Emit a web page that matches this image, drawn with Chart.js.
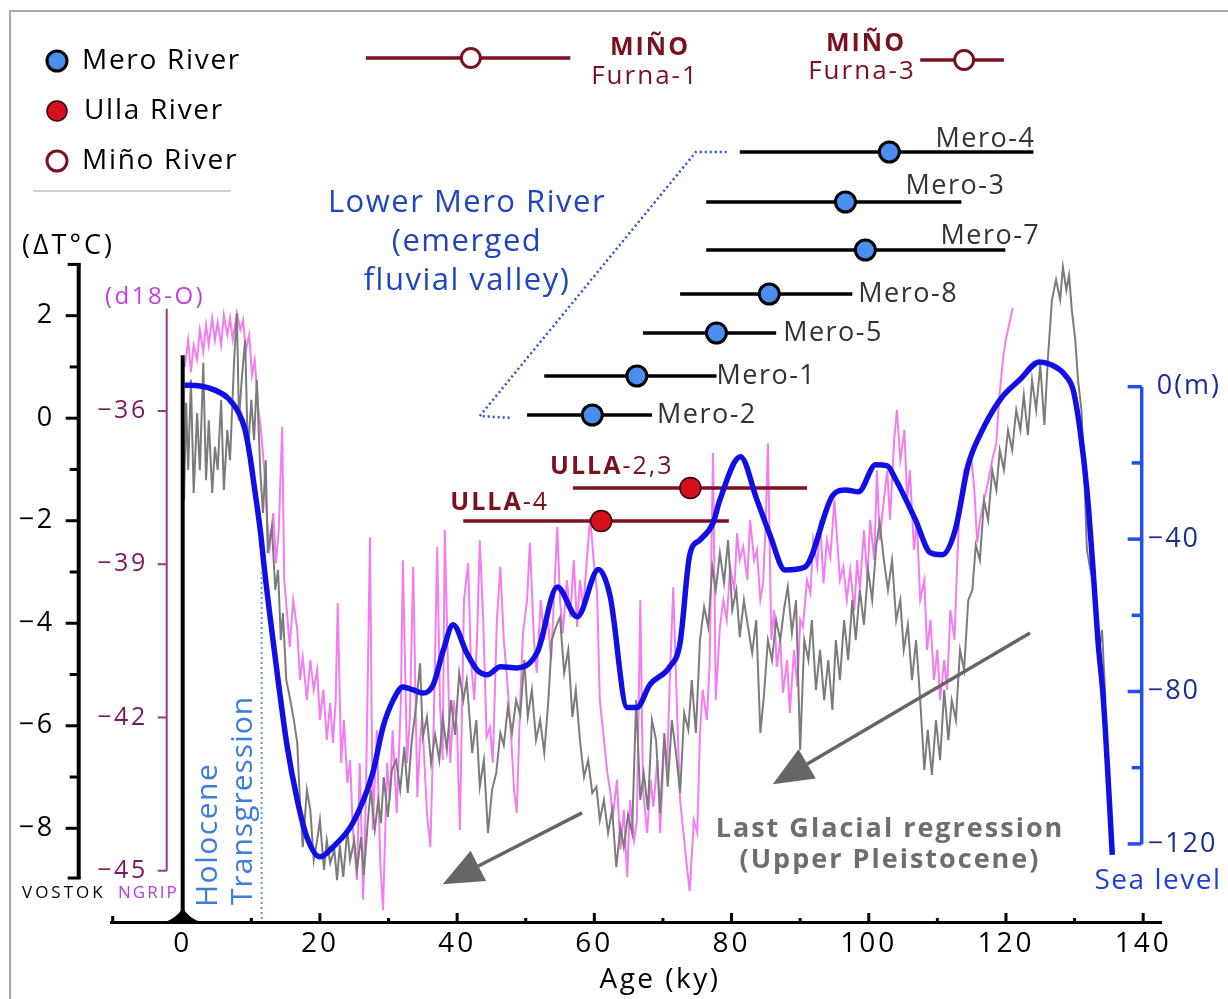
<!DOCTYPE html>
<html>
<head>
<meta charset="utf-8">
<script src="https://cdn.jsdelivr.net/npm/chart.js@4"></script>
<style>
  html, body { margin: 0; padding: 0; background: #fff; }
  #wrap { width: 1228px; height: 999px; }
</style>
</head>
<body>
<div id="wrap"><canvas id="chart" width="1228" height="999"></canvas></div>
<script>
// ---------- data ----------
// VOSTOK temperature anomaly (deg C) vs age (ky)
const vostokAge = [
  0.2,0.5,0.8,1.2,1.6,2.1,2.5,3.0,3.4,3.8,
  4.3,4.7,5.1,5.6,6.0,6.5,6.9,7.5,7.9,8.2,
  8.6,9.1,9.5,10.0,10.4,10.8,11.3,11.7,12.1,12.4,
  13.0,13.5,13.9,14.3,14.6,15.1,15.6,16.2,16.7,17.1,
  17.5,18.1,18.6,19.1,19.6,20.0,20.6,21.0,21.5,22.1,
  22.5,22.9,23.4,24.0,24.4,25.0,25.4,26.0,26.4,27.0,
  27.4,28.0,28.5,28.9,29.3,29.9,30.5,31.1,31.7,32.3,
  32.8,33.4,34.0,34.6,35.0,35.6,36.2,36.8,37.4,37.9,
  38.5,39.1,39.7,40.3,40.9,41.4,42.2,42.8,43.3,43.9,
  44.5,45.1,45.7,46.3,46.8,47.4,48.0,48.6,49.2,49.8,
  50.3,50.9,51.5,52.1,52.7,53.3,53.8,54.4,55.0,55.6,
  56.2,56.8,57.3,57.9,58.5,59.1,59.7,60.3,60.8,61.4,
  62.0,62.6,63.2,63.8,64.3,64.9,65.5,66.1,66.7,67.2,
  67.8,68.4,69.0,69.6,70.2,70.7,71.3,71.9,72.5,73.1,
  73.7,74.2,74.8,75.4,76.0,76.6,77.2,77.7,78.3,78.9,
  79.5,80.1,80.7,81.2,81.8,82.4,83.0,83.6,84.2,84.7,
  85.3,85.9,86.5,87.1,87.7,88.2,88.8,89.4,90.0,90.6,
  91.2,91.7,92.3,92.9,93.5,94.1,94.7,95.2,95.8,96.4,
  97.0,97.6,98.1,98.7,99.3,99.9,100.5,101.1,101.6,102.2,
  102.8,103.4,104.0,104.6,105.1,105.7,106.3,106.9,107.5,108.1,
  108.6,109.2,109.8,110.4,111.0,111.6,112.1,112.7,113.3,113.9,
  114.5,115.1,115.6,116.2,116.8,117.4,118.0,118.6,119.1,119.7,
  120.3,120.9,121.5,122.1,122.6,123.2,123.8,124.4,125.0,125.6,
  126.1,126.7,127.3,127.9,128.3,128.8,129.2,129.6,130.1,130.5,
  131.0,131.4,131.8,132.3,132.7,133.1,133.6,134.0,134.5
];
const vostokDT = [
  -1.60,0.30,-1.01,0.75,-1.46,0.10,-1.01,1.08,-1.21,-0.04,
  -1.46,-0.56,-1.01,0.36,-1.40,-0.23,-0.82,1.14,2.05,-0.04,
  0.75,1.53,-0.68,0.36,-0.43,0.75,-1.01,-1.85,-0.82,-2.63,
  -2.12,-3.35,-2.96,-4.33,-3.80,-5.11,-5.44,-5.89,-6.34,-7.51,
  -8.37,-7.25,-7.64,-8.62,-8.23,-7.84,-8.81,-8.23,-8.68,-8.42,
  -9.01,-8.33,-8.95,-8.03,-8.62,-8.23,-8.81,-8.17,-8.91,-7.84,
  -7.25,-8.03,-7.45,-7.90,-7.00,-7.78,-6.86,-6.67,-7.25,-6.41,
  -7.31,-6.28,-5.63,-4.78,-6.22,-5.83,-6.73,-6.18,-6.67,-5.83,
  -6.47,-5.50,-6.18,-4.97,-5.50,-5.11,-6.53,-5.89,-7.19,-6.67,
  -8.09,-7.25,-6.92,-6.14,-6.38,-5.63,-6.14,-5.50,-5.79,-4.72,
  -5.83,-5.30,-6.28,-5.89,-6.53,-5.50,-4.33,-4.07,-3.88,-4.97,
  -4.52,-5.83,-5.30,-6.28,-7.00,-6.67,-7.31,-7.19,-7.84,-7.45,
  -8.09,-7.64,-8.76,-7.98,-8.37,-7.74,-8.09,-5.50,-7.45,-6.92,
  -7.64,-5.89,-6.28,-7.70,-6.14,-7.19,-5.89,-6.53,-7.31,-5.75,
  -6.08,-5.11,-6.14,-4.33,-3.68,-4.07,-2.90,-3.35,-2.63,-3.21,
  -2.38,-3.74,-3.35,-4.27,-3.55,-4.07,-4.58,-3.94,-6.14,-5.44,
  -4.33,-4.72,-3.94,-4.33,-3.68,-3.29,-4.19,-3.55,-6.47,-4.33,
  -4.72,-3.94,-5.30,-4.52,-5.50,-4.72,-5.69,-4.33,-5.11,-3.94,
  -4.72,-3.55,-4.33,-3.35,-4.03,-2.96,-3.55,-2.47,-2.04,-2.77,
  -3.35,-2.77,-3.94,-3.55,-4.52,-4.03,-5.11,-4.33,-5.50,-6.86,
  -6.08,-6.96,-5.89,-6.67,-5.30,-6.28,-5.50,-5.89,-4.52,-4.91,
  -3.55,-3.35,-2.47,-2.77,-1.60,-1.99,-1.01,-1.40,-0.62,-1.01,
  -0.23,-0.62,0.16,-0.23,0.45,-0.33,0.75,0.16,1.04,-0.13,
  1.14,2.31,2.70,2.31,2.95,2.50,2.79,2.11,1.53,0.75,
  0.16,-1.01,-2.57,-2.96,-3.21,-3.55,-4.52,-4.13,-5.50
];

// NGRIP d18-O (permil) vs age (ky)
const ngripAge = [
  0.3,0.8,1.2,1.6,2.1,2.5,3.0,3.4,3.8,4.3,
  4.7,5.1,5.6,6.0,6.5,6.9,7.3,7.9,8.4,8.8,
  9.2,9.7,10.1,10.5,11.0,11.4,11.9,12.3,12.7,13.2,
  13.6,14.0,14.5,14.8,15.2,15.6,16.1,16.7,17.1,17.5,
  18.1,18.6,19.1,19.6,20.0,20.5,21.0,21.5,21.9,22.3,
  22.6,23.1,23.5,24.0,24.4,24.8,25.4,25.8,26.3,26.7,
  27.3,27.7,28.3,28.8,29.2,29.8,30.2,30.6,31.2,31.8,
  32.1,32.7,33.1,33.6,34.2,34.6,34.9,35.6,36.1,36.6,
  37.1,37.5,37.9,38.2,39.0,39.5,40.0,40.4,41.0,41.6,
  42.0,42.5,42.9,43.3,43.8,44.3,44.8,45.2,45.8,46.3,
  46.8,47.3,47.9,48.3,48.7,49.2,49.6,50.2,50.6,51.2,
  51.6,52.2,52.7,53.1,53.7,54.1,54.6,55.0,55.4,56.0,
  56.5,57.0,57.5,57.9,58.4,58.9,59.4,59.9,60.4,60.8,
  61.4,61.9,62.3,62.7,63.3,63.8,64.3,64.8,65.2,65.8,
  66.2,66.7,67.1,67.7,68.2,68.6,69.2,69.6,70.2,70.6,
  71.0,71.5,72.1,72.5,73.1,73.5,73.9,74.5,75.0,75.4,
  75.8,76.4,76.8,77.3,77.7,78.3,78.8,79.3,79.8,80.4,
  80.8,81.2,81.7,82.3,82.7,83.3,83.7,84.2,84.6,85.0,
  85.3,85.8,86.2,86.6,87.1,87.5,88.1,88.5,89.1,89.6,
  90.0,90.4,91.0,91.5,91.9,92.5,92.9,93.4,93.9,94.4,
  95.0,95.4,95.8,96.3,96.8,97.3,97.9,98.3,98.7,99.3,
  99.8,100.2,100.8,101.2,101.6,102.2,102.7,103.1,103.7,104.1,
  104.6,105.2,105.6,106.0,106.6,107.0,107.5,108.1,108.5,109.0,
  109.5,110.0,110.4,111.0,111.4,111.9,112.5,112.9,113.3,113.9,
  114.3,114.9,115.4,115.8,116.2,116.8,117.4,118.0,118.6,119.0,
  119.6,120.0,120.6,121.0
];
const ngripD18O = [
  -35.14,-34.61,-35.24,-34.71,-35.00,-34.41,-34.84,-34.32,-34.71,-34.18,
  -34.61,-34.26,-34.71,-34.12,-34.51,-34.18,-34.61,-34.08,-34.41,-34.22,
  -34.81,-34.51,-35.30,-35.00,-35.92,-36.37,-37.16,-38.13,-38.66,-38.00,
  -38.98,-38.33,-36.31,-39.31,-39.95,-40.62,-39.70,-40.29,-41.27,-40.82,
  -41.66,-40.87,-41.46,-41.07,-42.05,-41.46,-42.44,-41.72,-42.50,-41.66,
  -39.76,-42.89,-42.05,-43.28,-42.83,-44.20,-45.18,-42.89,-45.57,-43.56,
  -38.47,-44.20,-42.25,-44.85,-45.77,-42.89,-43.62,-42.25,-43.87,-41.66,
  -38.92,-42.89,-42.05,-39.05,-43.56,-42.44,-41.99,-43.87,-44.54,-42.05,
  -38.66,-41.72,-42.83,-38.33,-42.89,-41.66,-42.25,-44.20,-39.70,-38.98,
  -40.87,-41.66,-40.48,-38.53,-40.09,-42.38,-42.19,-42.89,-40.09,-39.05,
  -40.48,-41.27,-42.44,-43.42,-43.87,-41.66,-40.35,-39.70,-38.58,-40.48,
  -41.13,-39.70,-40.48,-39.84,-40.87,-39.70,-38.27,-39.70,-40.35,-39.31,
  -40.03,-38.92,-40.23,-39.31,-39.84,-38.92,-38.08,-38.92,-39.56,-41.66,
  -42.44,-43.09,-43.42,-43.95,-43.22,-44.59,-43.81,-45.12,-43.62,-44.40,
  -44.01,-39.70,-43.42,-44.26,-43.22,-43.75,-42.83,-44.26,-42.44,-42.97,
  -41.27,-39.45,-42.05,-43.62,-44.40,-44.93,-45.40,-44.01,-44.26,-42.30,
  -41.46,-42.05,-41.01,-36.82,-41.66,-40.23,-39.70,-40.09,-39.05,-39.50,
  -38.39,-38.92,-38.66,-39.31,-38.13,-38.92,-38.72,-39.70,-39.37,-38.13,
  -36.63,-40.48,-39.90,-41.01,-40.48,-41.52,-40.87,-41.91,-40.68,-41.40,
  -40.09,-40.23,-39.31,-39.56,-38.53,-39.05,-38.13,-39.37,-38.53,-38.86,
  -37.74,-38.53,-39.31,-39.05,-39.70,-39.11,-39.90,-38.92,-39.50,-38.33,
  -39.31,-38.13,-38.92,-37.16,-38.53,-37.74,-37.16,-38.13,-36.57,-35.98,
  -36.96,-36.37,-37.74,-37.16,-38.72,-38.13,-39.70,-39.31,-40.68,-40.09,
  -41.27,-40.68,-41.66,-40.87,-41.46,-39.90,-40.48,-38.92,-37.74,-37.16,
  -37.04,-36.86,-37.55,-38.58,-38.15,-37.74,-37.39,-36.96,-36.63,-35.78,
  -34.94,-34.59,-34.22,-33.98
];

// Sea level (m) vs age (ky)
const seaAge = [
  0.3,2.5,4.7,6.6,8.1,9.1,9.8,10.5,11.3,12.0,
  12.7,13.9,15.2,16.7,18.1,20.0,21.9,24.8,27.7,29.2,
  30.7,32.1,33.6,35.0,36.5,38.0,39.4,41.4,42.9,44.4,
  46.3,48.7,51.7,54.6,57.5,60.6,62.3,64.8,66.2,68.1,
  71.0,72.5,73.9,75.4,77.3,78.3,81.3,83.7,85.6,87.8,
  90.7,94.8,96.6,98.5,101.0,102.7,103.8,106.8,109.0,110.7,
  112.6,114.5,116.2,119.1,122.0,124.9,126.4,128.6,129.8,130.8,
  131.8,132.7,133.4,134.2,134.9,135.5
];
const seaLevel = [
  0.4,0.2,-0.9,-3.0,-6.6,-11.4,-18.2,-27.1,-37.6,-49.4,
  -59.9,-77.0,-94.1,-108.5,-118.2,-123.4,-120.8,-114.5,-101.4,-89.3,
  -82.2,-78.8,-79.6,-80.4,-78.3,-69.1,-62.5,-69.9,-74.3,-75.6,
  -73.5,-73.8,-69.6,-52.6,-60.4,-48.0,-55.0,-84.2,-84.2,-78.2,
  -73.5,-67.2,-44.2,-40.2,-35.8,-29.7,-18.4,-29.7,-38.9,-48.1,
  -47.3,-28.4,-27.1,-27.6,-20.5,-20.8,-23.9,-34.9,-43.6,-44.1,
  -37.6,-20.5,-12.7,-3.5,1.8,6.5,5.9,3.1,-0.9,-11.4,
  -27.1,-48.1,-66.5,-82.2,-103.2,-122.9
];

// dated samples: central age and age range (ky)
const meroNames = ["Mero-4", "Mero-3", "Mero-7", "Mero-8", "Mero-5", "Mero-1", "Mero-2"];
const meroAge = [103.0, 96.6, 99.5, 85.5, 77.8, 66.2, 59.7];
const meroMin = [81.2, 76.3, 76.3, 72.5, 67.1, 52.7, 50.2];
const meroMax = [124.0, 113.5, 119.9, 97.6, 86.5, 77.8, 68.4];

const ullaNames = ["-2,3", "-4"];
const ullaAge = [74.0, 61.0];
const ullaMin = [56.9, 40.9];
const ullaMax = [91.0, 79.6];

const minoNames = ["Furna-1", "Furna-3"];
const minoAge = [42.0, 113.9];
const minoMin = [26.7, 107.5];
const minoMax = [56.5, 119.7];

const ageTicks = [0, 20, 40, 60, 80, 100, 120, 140];
const dTTicks = [2, 1, 0, -1, -2, -3, -4, -5, -6, -7, -8];
const d18Ticks = [-36, -39, -42, -45];
const seaTicks = [0, -20, -40, -60, -80, -100, -120];

// ---------- layout (rows for the sample bars, pixels from top) ----------
const meroLane = [152, 202, 250, 294, 333, 376, 415];
const ullaLane = [488, 521];
const minoLane = [58, 60];
const bracketAge = [79.3, 74.8, 43.3, 48.0];
const bracketLane = [152, 152, 416, 418];
const meroLabelDx = [2, 44, 35, 6, 7, 0, 5];
const meroLabelDy = [-13, -16, -14, 0, 0, 0, 0];

const FONT = '"Open Sans", "Noto Sans", sans-serif';
const pts = (xs, ys) => xs.map((x, i) => ({ x: x, y: ys[i] }));

const datasets = [
  { label: "NGRIP", data: pts(ngripAge, ngripD18O), yAxisID: "d18", borderColor: "#f27cf0",
    borderWidth: 2, pointRadius: 0, order: 60 },
  { label: "VOSTOK", data: pts(vostokAge, vostokDT), yAxisID: "dT", borderColor: "#7b7b7b",
    borderWidth: 2, pointRadius: 0, order: 50 },
  { label: "Sea level", data: pts(seaAge, seaLevel), yAxisID: "sl", borderColor: "#1010e6",
    borderWidth: 5.5, pointRadius: 0, cubicInterpolationMode: "monotone", order: 30 },
  { label: "bracket", data: pts(bracketAge, bracketLane), yAxisID: "lane", borderColor: "#2a52cc",
    borderWidth: 2.5, borderDash: [2, 3], pointRadius: 0, order: 35 }
];

function addBars(mins, maxs, lanes, color) {
  mins.forEach((lo, i) => {
    datasets.push({ data: [{ x: lo, y: lanes[i] }, { x: maxs[i], y: lanes[i] }], yAxisID: "lane",
      borderColor: color, borderWidth: 3.5, pointRadius: 0, order: 40 });
  });
}
addBars(meroMin, meroMax, meroLane, "#000");
addBars(ullaMin, ullaMax, ullaLane, "#7a1020");
addBars(minoMin, minoMax, minoLane, "#7a1020");

datasets.push({ label: "Mero River", data: pts(meroAge, meroLane), yAxisID: "lane", showLine: false,
  pointRadius: 10, pointBackgroundColor: "#4a8ef0", pointBorderColor: "#000", pointBorderWidth: 3, order: 10 });
datasets.push({ label: "Ulla River", data: pts(ullaAge, ullaLane), yAxisID: "lane", showLine: false,
  pointRadius: 10.5, pointBackgroundColor: "#d4101c", pointBorderColor: "#2a0808", pointBorderWidth: 1.5, order: 10 });
datasets.push({ label: "Miño River", data: pts(minoAge, minoLane), yAxisID: "lane", showLine: false,
  pointRadius: 9.5, pointBackgroundColor: "#fff", pointBorderColor: "#7a1020", pointBorderWidth: 3, order: 10 });

function txt(ctx, s, x, y, size, color, align, bold, ls) {
  ctx.font = (bold ? "bold " : "") + size + "px " + FONT;
  ctx.letterSpacing = (ls === undefined ? 1.5 : ls) + "px";
  ctx.fillStyle = color;
  ctx.textAlign = align || "left";
  ctx.textBaseline = "middle";
  ctx.fillText(s, x, y);
}
function seg(ctx, x1, y1, x2, y2, color, w) {
  ctx.strokeStyle = color; ctx.lineWidth = w;
  ctx.beginPath(); ctx.moveTo(x1, y1); ctx.lineTo(x2, y2); ctx.stroke();
}
function arrow(ctx, x1, y1, x2, y2) {
  const a = Math.atan2(y2 - y1, x2 - x1), L = 40, W = 17;
  const bx = x2 - L * Math.cos(a), by = y2 - L * Math.sin(a);
  seg(ctx, x1, y1, bx, by, "#666", 3.5);
  ctx.fillStyle = "#666";
  ctx.beginPath();
  ctx.moveTo(x2, y2);
  ctx.lineTo(bx + W * Math.sin(a), by - W * Math.cos(a));
  ctx.lineTo(bx - W * Math.sin(a), by + W * Math.cos(a));
  ctx.closePath(); ctx.fill();
}
const fmt = v => (v < 0 ? "\u2212" + Math.abs(v) : String(v));

const spacing = {
  id: "spacing",
  beforeDraw(chart) { chart.ctx.letterSpacing = "3px"; }
};

const decor = {
  id: "decor",
  afterDraw(chart) {
    const ctx = chart.ctx;
    const { x, dT, d18, sl } = chart.scales;
    const area = chart.chartArea;
    ctx.save();

    // frame
    ctx.strokeStyle = "#a8a8a8"; ctx.lineWidth = 2;
    ctx.strokeRect(10, 11, 1240, 1010);

    // x axis inward ticks and title
    const ax = area.bottom;
    for (let v = 0; v <= 140; v += 10) {
      const px = x.getPixelForValue(v);
      seg(ctx, px, ax, px, ax - (v % 20 === 0 ? 9 : 4), "#000", 3);
    }
    seg(ctx, area.left + 1, ax, area.left + 1, ax - 6, "#000", 3);
    txt(ctx, "Age (ky)", 660, 980, 28, "#000", "center", false, 2.5);

    // zero-age line and marker
    const x0 = x.getPixelForValue(0);
    seg(ctx, x0, dT.getPixelForValue(1.23), x0, ax, "#000", 4);
    ctx.fillStyle = "#000";
    ctx.beginPath();
    ctx.moveTo(x0 - 18, ax); ctx.quadraticCurveTo(x0 - 6, ax - 4, x0, ax - 14);
    ctx.quadraticCurveTo(x0 + 6, ax - 4, x0 + 18, ax); ctx.closePath(); ctx.fill();

    // holocene dotted line
    const xh = x.getPixelForValue(11.5);
    ctx.save(); ctx.setLineDash([2, 3]);
    seg(ctx, xh, dT.getPixelForValue(-3.0), xh, ax, "#5b9ae0", 2);
    ctx.restore();

    // left temperature axis
    const xa = area.left - 33;
    seg(ctx, xa, dT.getPixelForValue(3.0), xa, dT.getPixelForValue(-8.97), "#000", 4);
    seg(ctx, xa - 11, dT.getPixelForValue(3.0), xa + 2, dT.getPixelForValue(3.0), "#000", 3);
    seg(ctx, xa - 11, dT.getPixelForValue(-8.97), xa + 2, dT.getPixelForValue(-8.97), "#000", 3);
    dTTicks.forEach(v => {
      const py = dT.getPixelForValue(v);
      const major = v % 2 === 0;
      seg(ctx, xa - (major ? 13 : 9), py, xa, py, "#000", 3);
      if (major) txt(ctx, fmt(v), xa - 24, py, 27, "#000", "right", false, 2.5);
    });

    // d18-O axis
    const xb = area.left + 55;
    seg(ctx, xb, d18.getPixelForValue(-34.0), xb, d18.getPixelForValue(-45), "#8e3a8e", 2);
    d18Ticks.forEach(v => {
      const py = d18.getPixelForValue(v);
      seg(ctx, xb - 9, py, xb, py, "#8e3a8e", 2);
      txt(ctx, fmt(v), xb - 19, py, 25, "#7a1a5e", "right", false, 2.5);
    });

    // sea level axis
    const xc = area.right - 20;
    seg(ctx, xc, sl.getPixelForValue(0), xc, sl.getPixelForValue(-120), "#1f4ff0", 3.5);
    seaTicks.forEach(v => {
      const py = sl.getPixelForValue(v);
      const major = v % 40 === 0;
      seg(ctx, xc - (major ? 14 : 10), py, xc, py, "#1f4ff0", 3.5);
      if (major) txt(ctx, v === 0 ? "0(m)" : fmt(v), xc + (v === 0 ? 15 : 6), py, 27, "#1c2d8f", "left", false, 2);
    });

    // axis captions
    txt(ctx, "(\u0394T\u00b0C)", 22, 246, 27, "#000", "left", false, 3);
    txt(ctx, "(d18-O)", 105, 297, 24, "#c23fe0", "left", false, 2.5);
    txt(ctx, "VOSTOK", 22, 893, 17, "#000", "left", false, 3);
    txt(ctx, "NGRIP", 118, 893, 17, "#b040e0", "left", false, 2);
    txt(ctx, "Sea level", 1158, 881, 28, "#1e3fd8", "center", false, 1.5);

    // legend
    const leg = [["Mero River", "#4a8ef0", "#000", 3], ["Ulla River", "#d4101c", "#2a0808", 1.5], ["Mi\u00f1o River", "#fff", "#7a1020", 3]];
    leg.forEach((l, i) => {
      const cy = 61 + i * 50;
      ctx.beginPath(); ctx.arc(57, cy, 10, 0, Math.PI * 2);
      ctx.fillStyle = l[1]; ctx.fill();
      ctx.strokeStyle = l[2]; ctx.lineWidth = l[3]; ctx.stroke();
      txt(ctx, l[0], i === 1 ? 84 : 82, cy, 28, "#000", "left", false, 1.7);
    });
    seg(ctx, 33, 191, 231, 191, "#cfcfcf", 2);

    // sample labels
    meroNames.forEach((n, i) => {
      const right = meroLabelDy[i] !== 0;
      const px = x.getPixelForValue(meroMax[i]) + meroLabelDx[i];
      txt(ctx, n, px, meroLane[i] + meroLabelDy[i], 27, "#333", right ? "right" : "left", false, 1.5);
    });
    const ullaDx = [-23, -13], ullaDy = [-21, -18];
    ullaNames.forEach((n, i) => {
      const px = x.getPixelForValue(ullaMin[i]) + ullaDx[i];
      const py = ullaLane[i] + ullaDy[i];
      txt(ctx, "ULLA", px, py, 25, "#7a1020", "left", true, 2);
      const w = ctx.measureText("ULLA").width;
      txt(ctx, n, px + w, py, 25, "#7a1020", "left", false, 2);
    });
    txt(ctx, "MI\u00d1O", 650, 48, 25, "#7a1020", "center", true, 2);
    txt(ctx, "Furna-1", 645, 77, 26, "#7a1020", "center", false, 2);
    txt(ctx, "MI\u00d1O", 866, 44, 25, "#7a1020", "center", true, 2);
    txt(ctx, "Furna-3", 862, 72, 26, "#7a1020", "center", false, 2);

    // annotations
    ["Lower Mero River", "(emerged", "fluvial valley)"].forEach((s, i) => {
      txt(ctx, s, 467, 203 + i * 39, 31, "#1f45c0", "center", false, 1.5);
    });
    txt(ctx, "Last Glacial regression", 890, 829, 27, "#6e6e6e", "center", true, 2);
    txt(ctx, "(Upper Pleistocene)", 890, 860, 27, "#6e6e6e", "center", true, 2);
    ctx.save();
    ctx.translate(208, 907); ctx.rotate(-Math.PI / 2);
    txt(ctx, "Holocene", 0, 0, 30, "#3d7ddb", "left", false, 1.5);
    ctx.restore();
    ctx.save();
    ctx.translate(243, 905); ctx.rotate(-Math.PI / 2);
    txt(ctx, "Transgression", 0, 0, 30, "#3d7ddb", "left", false, 1.0);
    ctx.restore();

    // regression arrows (in age / temperature units)
    arrow(ctx, x.getPixelForValue(58.2), dT.getPixelForValue(-7.70), x.getPixelForValue(37.9), dT.getPixelForValue(-9.09));
    arrow(ctx, x.getPixelForValue(123.5), dT.getPixelForValue(-4.19), x.getPixelForValue(86.0), dT.getPixelForValue(-7.14));

    ctx.restore();
  }
};

new Chart(document.getElementById("chart"), {
  type: "line",
  data: { datasets: datasets },
  options: {
    responsive: false,
    devicePixelRatio: 1,
    animation: false,
    events: [],
    layout: { autoPadding: false, padding: { left: 111.7, right: 66.3, top: 0, bottom: 0 } },
    plugins: { legend: { display: false }, tooltip: { enabled: false } },
    scales: {
      x: {
        type: "linear", min: -10.35, max: 142.7, position: "bottom",
        afterBuildTicks: s => { s.ticks = ageTicks.map(v => ({ value: v })); },
        afterFit: s => { s.height = 77; },
        grid: { display: true, drawOnChartArea: false, drawTicks: false },
        border: { display: true, color: "#000", width: 3 },
        ticks: { color: "#000", font: { family: FONT, size: 28 }, padding: 5, maxRotation: 0, autoSkip: false },
        title: { display: false }
      },
      y: { display: false },
      dT: { type: "linear", display: false, min: -9.828, max: 8.158 },
      d18: { type: "linear", display: false, min: -46.004, max: -27.954 },
      sl: { type: "linear", display: false, min: -140.5, max: 101.5 },
      lane: { type: "linear", display: false, min: 0, max: 922, reverse: true }
    }
  },
  plugins: [spacing, decor]
});
</script>
</body>
</html>
